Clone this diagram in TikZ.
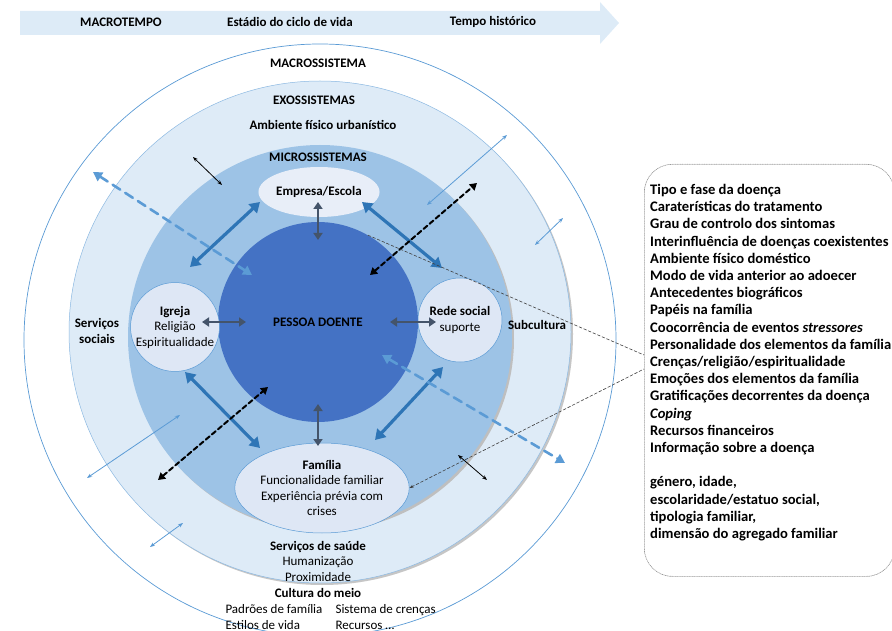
\documentclass[tikz,border=0pt]{standalone}
\usepackage{fontspec}
\setmainfont{Carlito}
\usepackage{tikz}
\usetikzlibrary{arrows.meta,shapes.geometric}
\usepackage{xcolor}
\definecolor{faixa}{RGB}{221,235,247}
\definecolor{exofill}{RGB}{222,235,247}
\definecolor{microfill}{RGB}{157,195,230}
\definecolor{pessoafill}{RGB}{68,114,196}
\definecolor{bolhafill}{RGB}{222,231,245}
\definecolor{azul}{RGB}{46,117,182}
\definecolor{claro}{RGB}{91,155,213}
\definecolor{ardosia}{RGB}{68,84,106}
\tikzset{
  titulo/.style={font=\bfseries\fontsize{13}{15.5}\selectfont,align=center},
  texto/.style={font=\fontsize{13}{15.5}\selectfont,align=center},
  bolha/.style={fill=bolhafill,draw=claro,line width=0.5pt,align=center,inner sep=0pt},
  grossa/.style={azul,line width=3.2pt,{Triangle[length=10pt,width=12pt]}-{Triangle[length=10pt,width=12pt]}},
  curta/.style={ardosia,line width=2.6pt,{Triangle[length=7pt,width=9pt]}-{Triangle[length=7pt,width=9pt]}},
  tracejada/.style={black,line width=2pt,dash pattern=on 5pt off 3pt,{Triangle[length=7pt,width=8pt]}-{Triangle[length=7pt,width=8pt]}},
  tracoclaro/.style={claro,line width=2.6pt,dash pattern=on 9pt off 6pt,{Triangle[length=9pt,width=10pt]}-{Triangle[length=9pt,width=10pt]}},
  fina/.style={black,line width=0.8pt,{Stealth[length=5pt]}-{Stealth[length=5pt]}},
  finaclara/.style={claro,line width=0.8pt,{Stealth[length=5pt]}-{Stealth[length=5pt]}},
  ligacao/.style={black!75,line width=0.6pt,densely dashed},
  caixa/.style={draw=gray!80,densely dotted,line width=0.7pt,rounded corners=28pt,minimum width=250pt,minimum height=412pt,anchor=north west},
  lista/.style={font=\bfseries\fontsize{14.6}{17.2}\selectfont,align=left,anchor=north west,inner sep=0pt}
}
\begin{document}
\begin{tikzpicture}[x=1pt,y=-1pt,line cap=round]
\clip (0,0) rectangle (892,631);
\fill[faixa] (20,11) -- (600,11) -- (600,2) -- (619,23) -- (600,44) -- (600,35) -- (20,35) -- cycle;
\node[titulo] (macrotempo) at (121,22) {MACROTEMPO};
\node[titulo] (ciclo) at (290,22) {Estádio do ciclo de vida};
\node[titulo] (historico) at (493,22) {Tempo histórico};
\filldraw[fill=white,draw=claro,line width=0.7pt] (320,340) circle[radius=296pt];
\fill[gray!45] (322,334) circle[radius=251pt];
\filldraw[fill=exofill,draw=claro!70,line width=0.5pt] (320,332) circle[radius=251pt];
\fill[gray!50] (322,339) circle[radius=192pt];
\fill[microfill] (320,337) circle[radius=192pt];
\node[titulo] (macro) at (318,63) {MACROSSISTEMA};
\node[titulo] (exo) at (314,100) {EXOSSISTEMAS};
\node[titulo] (ambiente) at (323,125) {Ambiente físico urbanístico};
\node[titulo] (micro) at (318,157) {MICROSSISTEMAS};
\node[titulo] (sociais) at (97,331) {Serviços\\sociais};
\node[titulo] (subcultura) at (537,325) {Subcultura};
\node[circle,fill=pessoafill,minimum size=200pt,titulo] (pessoa) at (318,322) {PESSOA DOENTE};
\node[bolha,ellipse,draw=none,fill=bolhafill!70!white,minimum width=106pt,minimum height=50pt,titulo] (empresa) at (319,192) {Empresa/Escola};
\node[bolha,circle,minimum size=86pt,texto] (igreja) at (175,327) {\textbf{Igreja}\\Religião\\Espiritualidade};
\node[bolha,circle,minimum size=84pt,texto] (rede) at (460,320) {\textbf{Rede social}\\suporte};
\node[bolha,ellipse,minimum width=150pt,minimum height=90pt,texto] (familia) at (322,488) {\textbf{Família}\\Funcionalidade familiar\\Experiência prévia com\\crises};
\node[texto] (saude) at (318,561) {\textbf{Serviços de saúde}\\Humanização\\Proximidade};
\node[titulo] (cultura) at (318,593) {Cultura do meio};
\node[texto,align=left,anchor=west] (padroes) at (222,617) {Padrões de família\\Estilos de vida};
\node[texto,align=left,anchor=west] (crencas) at (332,617) {Sistema de crenças\\Recursos \dots};
\coordinate (cg1) at (318,202); \coordinate (cg2) at (318,240);
\coordinate (cg3) at (318,404); \coordinate (cg4) at (318,446);
\coordinate (cg5) at (202,322); \coordinate (cg6) at (246,322);
\coordinate (cg7) at (390,322); \coordinate (cg8) at (436,322);
\draw[curta] (cg1) -- (cg2);
\draw[curta] (cg3) -- (cg4);
\draw[curta] (cg5) -- (cg6);
\draw[curta] (cg7) -- (cg8);
\coordinate (ca1) at (190,267); \coordinate (ca2) at (260,202);
\coordinate (ca3) at (362,202); \coordinate (ca4) at (442,268);
\coordinate (ca5) at (185,372); \coordinate (ca6) at (260,448);
\coordinate (ca7) at (375,440); \coordinate (ca8) at (443,367);
\draw[grossa] (ca1) -- (ca2);
\draw[grossa] (ca3) -- (ca4);
\draw[grossa] (ca5) -- (ca6);
\draw[grossa] (ca7) -- (ca8);
\coordinate (cl1) at (93,172); \coordinate (cl2) at (252,275);
\coordinate (cl3) at (382,355); \coordinate (cl4) at (565,463);
\draw[tracoclaro] (cl1) -- (cl2);
\draw[tracoclaro] (cl3) -- (cl4);
\coordinate (cp1) at (370,275); \coordinate (cp2) at (477,183);
\coordinate (cp3) at (158,480); \coordinate (cp4) at (268,387);
\draw[tracejada] (cp1) -- (cp2);
\draw[tracejada] (cp3) -- (cp4);
\coordinate (cf1) at (193,157); \coordinate (cf2) at (222,185);
\coordinate (cf3) at (458,455); \coordinate (cf4) at (487,480);
\draw[fina] (cf1) -- (cf2);
\draw[fina] (cf3) -- (cf4);
\coordinate (cc1) at (427,205); \coordinate (cc2) at (507,135);
\coordinate (cc3) at (535,245); \coordinate (cc4) at (563,218);
\coordinate (cc5) at (87,478); \coordinate (cc6) at (180,415);
\coordinate (cc7) at (150,547); \coordinate (cc8) at (183,523);
\draw[finaclara] (cc1) -- (cc2);
\draw[finaclara] (cc3) -- (cc4);
\draw[finaclara] (cc5) -- (cc6);
\draw[finaclara] (cc7) -- (cc8);
\node[caixa] (caixa) at (644,164) {};
\node[lista] (itens) at (650,184) {Tipo e fase da doença\\
Caraterísticas do tratamento\\
Grau de controlo dos sintomas\\
Interinfluência de doenças coexistentes\\
Ambiente físico doméstico\\
Modo de vida anterior ao adoecer\\
Antecedentes biográficos\\
Papéis na família\\
Coocorrência de eventos \textit{stressores}\\
Personalidade dos elementos da família\\
Crenças/religião/espiritualidade\\
Emoções dos elementos da família\\
Gratificações decorrentes da doença\\
\textit{Coping}\\
Recursos financeiros\\
Informação sobre a doença\\[17.2pt]
género, idade,\\
escolaridade/estatuo social,\\
tipologia familiar,\\
dimensão do agregado familiar};
\coordinate (l1) at (644,355); \coordinate (l2) at (644,369);
\draw[ligacao] (pessoa.60) -- (l1);
\draw[ligacao,{Stealth[length=4pt]}-] (familia.east) -- (l2);
\end{tikzpicture}
\end{document}
